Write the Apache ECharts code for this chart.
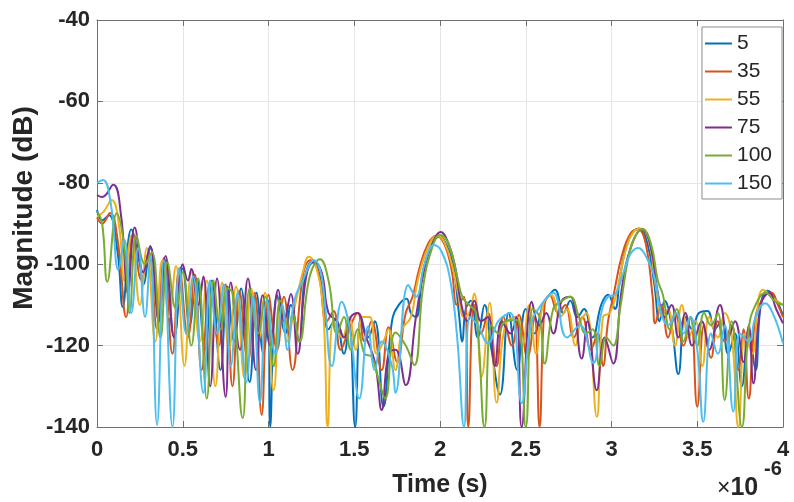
<!DOCTYPE html>
<html>
<head>
<meta charset="utf-8">
<script src="https://cdn.jsdelivr.net/npm/echarts@6/dist/echarts.min.js"></script>
<style>
html,body{margin:0;padding:0;background:#fff}
#chart{width:794px;height:502px}
</style>
</head>
<body>
<div id="chart"></div>
<script>
// Legend labels and MATLAB-style line colours
const seriesNames = ['5', '35', '55', '75', '100', '150'];
const seriesColors = ['#0072BD', '#D95319', '#EDB120', '#7E2F8E', '#77AC30', '#4DBEEE'];

// Axis ranges (time in microseconds, magnitude in dB)
const xRange = [0, 4, 0.5];
const yRange = [-140, -40, 20];

// Response traces: [time (us), magnitude (dB)]
const trace5 = [[0,-86.7],[0.03,-89.2],[0.07,-88],[0.12,-97],[0.15,-110.5],[0.2,-91.5],[0.25,-100],[0.27,-105],[0.31,-96],[0.36,-112],[0.4,-99],[0.45,-118],[0.5,-101],[0.54,-115],[0.58,-103.5],[0.63,-121],[0.67,-104],[0.72,-126],[0.76,-105.5],[0.8,-119],[0.84,-106],[0.89,-129],[0.93,-107],[0.97,-122],[1.0,-109],[1.01,-140],[1.05,-107.5],[1.1,-117],[1.13,-110],[1.18,-119],[1.21,-104],[1.255,-99.3],[1.3,-103],[1.35,-116],[1.39,-113.5],[1.44,-122],[1.47,-114.5],[1.505,-140],[1.54,-113],[1.58,-118],[1.62,-114],[1.67,-135],[1.72,-114],[1.76,-110],[1.805,-108.5],[1.83,-112],[1.86,-113],[1.9,-102],[1.95,-95.5],[1.995,-93.2],[2.04,-95.5],[2.08,-101],[2.11,-112],[2.13,-119],[2.15,-111],[2.18,-109],[2.22,-118],[2.26,-110],[2.3,-121],[2.35,-132],[2.4,-112],[2.45,-126],[2.5,-111],[2.55,-117],[2.6,-110],[2.63,-108],[2.67,-106.3],[2.72,-112],[2.76,-109],[2.8,-113],[2.84,-111],[2.89,-118],[2.94,-110],[2.98,-107.5],[3.02,-111],[3.05,-103],[3.1,-94],[3.16,-91.2],[3.21,-95],[3.25,-105],[3.28,-114],[3.31,-109],[3.35,-115],[3.39,-127],[3.43,-113],[3.47,-116],[3.51,-112],[3.56,-111.5],[3.6,-116],[3.64,-114],[3.68,-122],[3.72,-117],[3.76,-130],[3.8,-116],[3.84,-126],[3.87,-110],[3.91,-106.5],[3.95,-108],[4.0,-112.5]];

const trace35 = [[0,-88.5],[0.03,-90],[0.076,-87.4],[0.12,-94],[0.17,-113],[0.21,-92.5],[0.26,-104],[0.3,-97],[0.35,-116],[0.39,-98.5],[0.44,-122],[0.48,-101],[0.53,-118],[0.57,-102.5],[0.61,-126],[0.66,-104.5],[0.71,-120],[0.75,-105],[0.79,-130],[0.83,-106.5],[0.88,-124],[0.92,-107],[0.96,-137],[1.0,-107.5],[1.05,-121],[1.09,-108],[1.14,-126],[1.2,-103],[1.245,-99],[1.29,-102],[1.34,-114],[1.38,-111.5],[1.42,-121],[1.47,-116],[1.52,-112],[1.56,-119],[1.6,-114],[1.66,-126],[1.7,-115.5],[1.75,-124],[1.8,-112],[1.84,-108],[1.88,-101],[1.93,-95],[1.98,-93],[2.03,-95.5],[2.07,-102],[2.1,-110],[2.14,-108],[2.165,-140],[2.2,-110],[2.24,-117],[2.28,-112],[2.33,-125],[2.37,-113],[2.42,-120],[2.46,-112.5],[2.51,-123],[2.55,-113],[2.58,-140],[2.61,-110],[2.64,-107.6],[2.69,-112],[2.73,-110],[2.78,-118],[2.83,-113],[2.88,-121],[2.92,-117],[2.95,-125],[2.98,-114],[3.01,-108],[3.06,-98],[3.11,-92.5],[3.155,-91.4],[3.2,-95],[3.24,-108],[3.255,-114.5],[3.29,-110],[3.33,-118],[3.37,-112],[3.42,-120],[3.46,-113],[3.5,-135],[3.54,-115],[3.58,-123],[3.62,-114],[3.66,-119],[3.7,-115],[3.74,-126],[3.77,-116],[3.8,-133],[3.84,-113],[3.89,-108],[3.93,-107],[3.97,-110],[4.0,-113]];

const trace55 = [[0,-88.3],[0.04,-87],[0.086,-84.2],[0.13,-91],[0.16,-104],[0.2,-93],[0.25,-110],[0.29,-96],[0.34,-119],[0.38,-99],[0.42,-113],[0.46,-100.5],[0.51,-125],[0.55,-102],[0.6,-119],[0.64,-104],[0.69,-130],[0.73,-104.5],[0.77,-121],[0.81,-105.5],[0.86,-128],[0.9,-106],[0.94,-119],[0.98,-107],[1.03,-131],[1.07,-108],[1.11,-119],[1.15,-111],[1.2,-102],[1.235,-98.2],[1.28,-101],[1.32,-112],[1.345,-140],[1.38,-114],[1.43,-118],[1.47,-113],[1.51,-121],[1.55,-113],[1.59,-113],[1.63,-122],[1.67,-119],[1.7,-116],[1.74,-126],[1.78,-116],[1.83,-113],[1.87,-104],[1.93,-96],[1.985,-93],[2.03,-95],[2.08,-102],[2.11,-108],[2.14,-113],[2.17,-112],[2.2,-107.2],[2.243,-127.6],[2.29,-109.5],[2.33,-134],[2.38,-115],[2.447,-112.9],[2.48,-120],[2.52,-110],[2.56,-122],[2.6,-110],[2.65,-107.6],[2.7,-113],[2.74,-111],[2.79,-120],[2.82,-114],[2.855,-112],[2.914,-137.5],[2.95,-113],[2.99,-112],[3.03,-107],[3.08,-97],[3.13,-92],[3.175,-91.3],[3.22,-94.5],[3.26,-106],[3.3,-113],[3.33,-111],[3.37,-120],[3.41,-110],[3.45,-118],[3.49,-114],[3.53,-125],[3.57,-113],[3.62,-118],[3.66,-112],[3.7,-117],[3.74,-140],[3.78,-117],[3.82,-122],[3.86,-108],[3.885,-106.3],[3.93,-108],[4.0,-110]];

const trace75 = [[0,-83],[0.03,-83.5],[0.095,-80.5],[0.14,-88],[0.18,-107],[0.22,-91],[0.27,-102],[0.31,-95.5],[0.36,-114],[0.4,-98],[0.45,-118],[0.5,-100],[0.53,-104],[0.55,-101.2],[0.59,-110],[0.62,-103],[0.66,-130],[0.7,-103.5],[0.75,-132.6],[0.78,-104.5],[0.834,-121],[0.88,-103.5],[0.927,-126],[0.966,-107.6],[1.01,-120],[1.057,-106.3],[1.09,-114],[1.13,-107.3],[1.17,-122],[1.22,-103],[1.265,-99.5],[1.31,-102],[1.35,-112],[1.4,-114],[1.44,-118],[1.48,-113],[1.52,-112],[1.56,-117],[1.62,-124],[1.66,-135.8],[1.7,-122],[1.74,-121],[1.8,-129.7],[1.86,-112.9],[1.91,-101],[1.96,-94.5],[2.004,-92.1],[2.05,-95],[2.09,-101],[2.12,-109],[2.16,-114],[2.2,-109],[2.24,-114],[2.28,-113],[2.32,-125],[2.36,-114],[2.41,-117],[2.445,-113],[2.476,-140],[2.535,-109.2],[2.58,-115],[2.62,-112],[2.66,-117],[2.71,-109],[2.76,-108],[2.826,-123.2],[2.86,-114],[2.914,-131],[2.96,-118],[3.01,-124.4],[3.06,-106],[3.12,-95],[3.18,-91.4],[3.23,-96],[3.27,-107],[3.31,-113],[3.35,-110],[3.39,-118],[3.43,-112],[3.47,-120],[3.526,-114],[3.57,-121],[3.633,-110],[3.68,-118],[3.72,-114],[3.77,-124],[3.8,-115],[3.827,-129.3],[3.87,-110],[3.92,-107],[3.96,-111],[4.0,-114.5]];

const trace100 = [[0,-87],[0.03,-90],[0.06,-104.3],[0.115,-87.5],[0.16,-96],[0.19,-112],[0.23,-93],[0.28,-100],[0.32,-97],[0.37,-118],[0.41,-99.5],[0.46,-111],[0.5,-102],[0.55,-120],[0.59,-103.5],[0.64,-133],[0.68,-104],[0.72,-116],[0.76,-106],[0.79,-107],[0.85,-137.8],[0.89,-106],[0.94,-117],[0.98,-108],[1.03,-125],[1.07,-109],[1.12,-116],[1.14,-112],[1.18,-119],[1.24,-103],[1.3,-98.8],[1.35,-104],[1.4,-117],[1.44,-113],[1.48,-121],[1.52,-116],[1.56,-122],[1.6,-122.7],[1.64,-128],[1.68,-133],[1.74,-116.8],[1.8,-120],[1.85,-124.8],[1.9,-106],[1.95,-96.5],[2.0,-92.8],[2.05,-95],[2.1,-103],[2.13,-108],[2.17,-110],[2.21,-112],[2.26,-140],[2.3,-115],[2.34,-117],[2.38,-114],[2.447,-113.7],[2.5,-140],[2.54,-111],[2.58,-113],[2.61,-124.4],[2.66,-111],[2.71,-109],[2.76,-108],[2.81,-113],[2.85,-117],[2.89,-116],[2.93,-125],[2.97,-118],[3.01,-120],[3.05,-111],[3.1,-98],[3.14,-93],[3.18,-91.4],[3.23,-95],[3.27,-104],[3.3,-107.6],[3.34,-116],[3.38,-111],[3.42,-119],[3.46,-113],[3.5,-120],[3.54,-112],[3.58,-115],[3.62,-112],[3.66,-133.4],[3.7,-114],[3.76,-140],[3.8,-116],[3.84,-110],[3.9,-107],[3.95,-109],[4.0,-110]];

const trace150 = [[0,-80],[0.035,-79.3],[0.08,-85],[0.125,-101.4],[0.16,-94],[0.2,-112],[0.24,-96],[0.28,-113],[0.31,-98],[0.35,-139.5],[0.39,-99],[0.44,-140],[0.48,-101],[0.52,-117],[0.56,-103],[0.62,-131.6],[0.66,-104],[0.7,-117],[0.74,-105],[0.78,-125],[0.82,-107],[0.87,-129],[0.91,-108],[0.95,-134],[0.99,-109],[1.04,-122],[1.08,-110],[1.11,-121],[1.15,-109],[1.2,-104],[1.265,-99],[1.31,-103],[1.37,-125],[1.427,-109.2],[1.47,-115],[1.53,-133],[1.58,-115.3],[1.62,-126],[1.66,-119],[1.72,-125],[1.74,-131.6],[1.815,-105.1],[1.86,-108],[1.91,-100],[1.965,-95.3],[2.01,-97],[2.06,-104],[2.1,-118],[2.14,-140],[2.175,-113],[2.22,-115],[2.28,-119.4],[2.34,-114],[2.41,-112],[2.476,-134.1],[2.53,-115],[2.59,-110],[2.66,-107],[2.74,-118],[2.816,-115],[2.894,-124.3],[2.94,-112],[2.98,-108],[3.02,-107.5],[3.07,-102],[3.11,-97.5],[3.155,-96],[3.2,-98],[3.25,-103],[3.29,-112],[3.33,-115],[3.38,-112],[3.42,-117],[3.46,-113],[3.5,-121],[3.535,-138.7],[3.58,-117],[3.62,-122],[3.66,-115],[3.71,-136.2],[3.75,-117],[3.8,-119],[3.84,-113],[3.895,-109.6],[3.94,-112],[4.0,-119.4]];

const traces = [trace5, trace35, trace55, trace75, trace100, trace150];

const FONT = "'Liberation Sans', Arial, Helvetica, sans-serif";
const TEXT = '#262626';
const AXIS = '#707070';
const GRID = '#e6e6e6';

const chart = echarts.init(document.getElementById('chart'), null, { renderer: 'canvas' });

// Box outline on top and right, ticks only
const frameAxisBits = {
  axisLabel: { show: false },
  splitLine: { show: false },
  axisLine: { show: true, onZero: false, lineStyle: { color: AXIS, width: 1 } },
  axisTick: { show: true, inside: true, length: 6, lineStyle: { color: AXIS } }
};

chart.setOption({
  backgroundColor: '#ffffff',
  animation: false,
  grid: { left: 97, right: 11, top: 20, bottom: 75, containLabel: false, outerBoundsMode: 'none' },
  xAxis: [{
    type: 'value', min: xRange[0], max: xRange[1], interval: xRange[2],
    name: 'Time (s)', nameLocation: 'middle', nameGap: 46,
    nameTextStyle: { fontFamily: FONT, fontSize: 25, fontWeight: 'bold', color: TEXT },
    axisLine: { show: true, onZero: false, lineStyle: { color: AXIS, width: 1 } },
    axisTick: { show: true, inside: true, length: 6, lineStyle: { color: AXIS } },
    axisLabel: { fontFamily: FONT, fontSize: 22, fontWeight: 'bold', color: TEXT, margin: 12,
      formatter: v => String(v) },
    splitLine: { show: true, lineStyle: { color: GRID, width: 1 } }
  }, Object.assign({
    type: 'value', position: 'top', min: xRange[0], max: xRange[1], interval: xRange[2]
  }, frameAxisBits)],
  yAxis: [{
    type: 'value', min: yRange[0], max: yRange[1], interval: yRange[2],
    axisLine: { show: true, onZero: false, lineStyle: { color: AXIS, width: 1 } },
    axisTick: { show: true, inside: true, length: 6, lineStyle: { color: AXIS } },
    axisLabel: { fontFamily: FONT, fontSize: 22, fontWeight: 'bold', color: TEXT, margin: 7 },
    splitLine: { show: true, lineStyle: { color: GRID, width: 1 } }
  }, Object.assign({
    type: 'value', position: 'right', min: yRange[0], max: yRange[1], interval: yRange[2]
  }, frameAxisBits)],
  legend: {
    orient: 'vertical', right: 12, top: 27,
    backgroundColor: '#ffffff', borderColor: '#8c8c8c', borderWidth: 1, borderRadius: 0,
    padding: [6, 10, 5, 3], itemGap: 7, itemWidth: 27, itemHeight: 14,
    icon: 'path://M0,6L27,6L27,8L0,8Z',
    textStyle: { fontFamily: FONT, fontSize: 21, color: TEXT },
    data: seriesNames
  },
  graphic: [{
    // y-axis title
    type: 'text', x: 24, y: 208, rotation: Math.PI / 2,
    style: { text: 'Magnitude (dB)', font: 'bold 28px ' + FONT, fill: TEXT,
      textAlign: 'center', textVerticalAlign: 'middle' }
  }, {
    // exponent of the time axis
    type: 'text', left: 717, top: 476,
    style: {
      text: '{x|×}{n|10}',
      rich: {
        x: { font: '23px ' + FONT, fill: TEXT },
        n: { font: 'bold 25px ' + FONT, fill: TEXT }
      }
    }
  }, {
    type: 'text', left: 764, top: 459,
    style: { text: '-6', font: 'bold 20px ' + FONT, fill: TEXT }
  }],
  series: traces.map((d, i) => ({
    name: seriesNames[i],
    type: 'line',
    data: d,
    symbol: 'none',
    smooth: 0.45,
    clip: true,
    color: seriesColors[i],
    lineStyle: { width: 2, color: seriesColors[i] }
  }))
});
</script>
</body>
</html>
